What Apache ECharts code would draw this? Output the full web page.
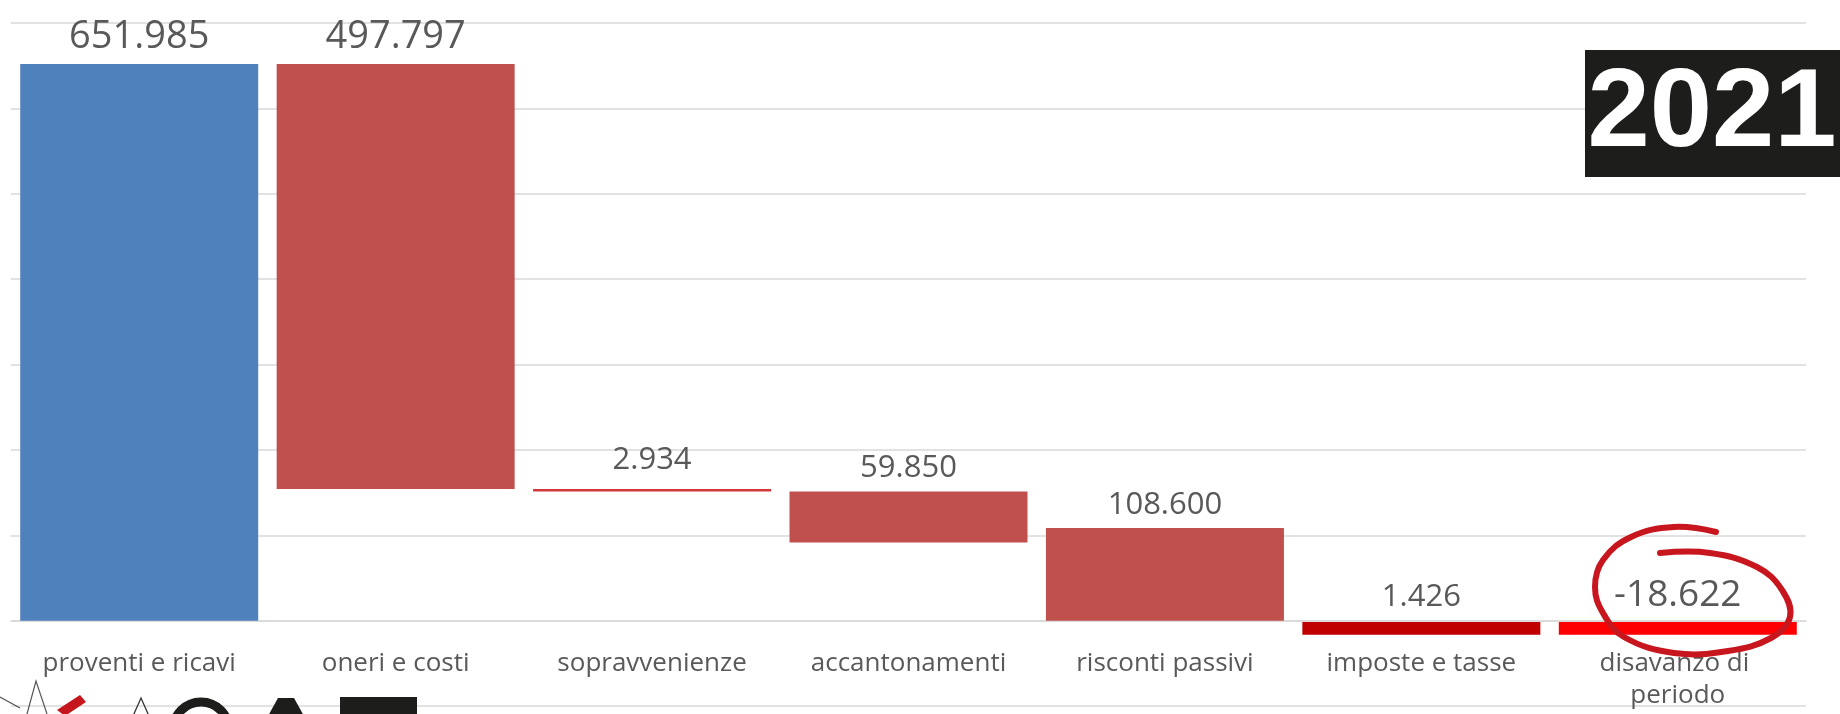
<!DOCTYPE html>
<html>
<head>
<meta charset="utf-8">
<script src="https://cdn.jsdelivr.net/npm/echarts@6/dist/echarts.min.js"></script>
<style>
  html, body { margin: 0; padding: 0; background: #ffffff; }
  #chart { width: 1840px; height: 714px; }
</style>
</head>
<body>
<div id="chart"></div>
<script>
// ---- data ----
const categories = ['proventi e ricavi', 'oneri e costi', 'sopravvenienze', 'accantonamenti', 'risconti passivi', 'imposte e tasse', 'disavanzo di periodo'];
const labelValues = [651985, 497797, 2934, 59850, 108600, 1426, -18622];
// floating bars: invisible base + visible span (value units)
const barBase = [0, 154188, 151254, 91404, 0, -1500, -1500];
const barSpan = [651985, 497797, 2934, 59850, 108600, -14900, -14900];
const yTicks = { min: -100000, max: 700000, step: 100000 };

// ---- styles ----
const barColors = ['#4F81BD', '#C0504D', '#D3383C', '#C0504D', '#C0504D', '#C00000', '#FF0000'];
const labelSizes = [38, 38, 31, 31, 31, 31, 37];
const labelDist = [8, 8, 13, 8, 7, 9, 8];

function fmt(v) {
  const s = Math.abs(v).toString().replace(/\B(?=(\d{3})+(?!\d))/g, '.');
  return (v < 0 ? '-' : '') + s;
}

const W = 1840, H = 714;
const gridTop = 23, gridBottom = 8;
const plotH = H - gridTop - gridBottom;
// move the category axis up to the zero line
const zeroOffset = -plotH * (0 - yTicks.min) / (yTicks.max - yTicks.min);

const chart = echarts.init(document.getElementById('chart'), null, { renderer: 'canvas' });

const option = {
  animation: false,
  backgroundColor: '#ffffff',
  grid: { left: 11, right: 34, top: gridTop, bottom: gridBottom, containLabel: false, outerBoundsMode: 'none' },
  xAxis: {
    type: 'category',
    data: categories,
    offset: zeroOffset,
    axisLine: { onZero: false, lineStyle: { color: '#D9D9D9', width: 1.5 } },
    axisTick: { show: false },
    axisLabel: {
      color: '#595959',
      fontFamily: 'Open Sans',
      fontSize: 26,
      lineHeight: 32,
      margin: 27,
      width: 240,
      overflow: 'break',
      interval: 0
    },
    splitLine: { show: false }
  },
  yAxis: {
    type: 'value',
    min: yTicks.min,
    max: yTicks.max,
    interval: yTicks.step,
    axisLabel: { show: false },
    axisLine: { show: false },
    axisTick: { show: false },
    splitLine: { show: true, lineStyle: { color: '#D9D9D9', width: 1.5 } }
  },
  series: [
    {
      type: 'bar',
      stack: 'w',
      barWidth: 238,
      silent: true,
      itemStyle: { color: 'rgba(0,0,0,0)' },
      data: barBase
    },
    {
      type: 'bar',
      stack: 'w',
      barWidth: 238,
      data: barSpan.map((v, i) => ({
        value: v,
        itemStyle: { color: barColors[i] },
        label: {
          show: true,
          position: 'top',
          distance: labelDist[i],
          fontSize: labelSizes[i],
          fontFamily: 'Open Sans',
          color: '#595959',
          formatter: () => fmt(labelValues[i])
        }
      }))
    }
  ],
  graphic: [
    // "2021" badge
    {
      type: 'rect', z: 100,
      shape: { x: 1585, y: 50, width: 255, height: 127 },
      style: { fill: '#1D1D1B' }
    },
    {
      type: 'text', z: 101,
      x: 1712, y: 115,
      style: {
        text: '2021',
        fill: '#ffffff',
        font: 'bold 112px "Liberation Sans", Arial, sans-serif',
        align: 'center',
        verticalAlign: 'middle'
      }
    },
    // hand-drawn red circle annotation
    {
      type: 'polyline', z: 110,
      shape: {
        smooth: 0.4,
        points: [
          [1716, 532], [1674, 527], [1631, 537], [1603, 560], [1595, 587],
          [1603, 613], [1624, 637], [1674, 653], [1728, 651], [1771, 638],
          [1790, 617], [1782, 590], [1757, 567], [1710, 553], [1660, 553]
        ]
      },
      style: { stroke: '#C8161E', lineWidth: 6, lineCap: 'round', lineJoin: 'round', fill: null }
    },
    // partial logo at the bottom-left
    {
      type: 'polyline', z: 50,
      shape: { points: [[27, 714], [36, 681], [47, 714]] },
      style: { stroke: '#555555', lineWidth: 1.2, fill: null }
    },
    {
      type: 'polyline', z: 50,
      shape: { points: [[0, 697], [20, 708]] },
      style: { stroke: '#555555', lineWidth: 1.2, fill: null }
    },
    {
      type: 'polygon', z: 50,
      shape: { points: [[57, 710], [80, 695], [86, 702], [65, 716]] },
      style: { fill: '#C4161C' }
    },
    {
      type: 'polyline', z: 50,
      shape: { points: [[133, 716], [141, 698], [149, 716]] },
      style: { stroke: '#333333', lineWidth: 1.3, fill: null }
    },
    {
      type: 'circle', z: 50,
      shape: { cx: 201, cy: 730, r: 28 },
      style: { stroke: '#1D1D1B', lineWidth: 9, fill: null }
    },
    {
      type: 'polygon', z: 50,
      shape: { points: [[278, 698], [294, 698], [304, 716], [268, 716]] },
      style: { fill: '#1D1D1B' }
    },
    {
      type: 'rect', z: 50,
      shape: { x: 340, y: 697, width: 77, height: 20 },
      style: { fill: '#1D1D1B' }
    }
  ]
};

chart.setOption(option);
</script>
</body>
</html>
